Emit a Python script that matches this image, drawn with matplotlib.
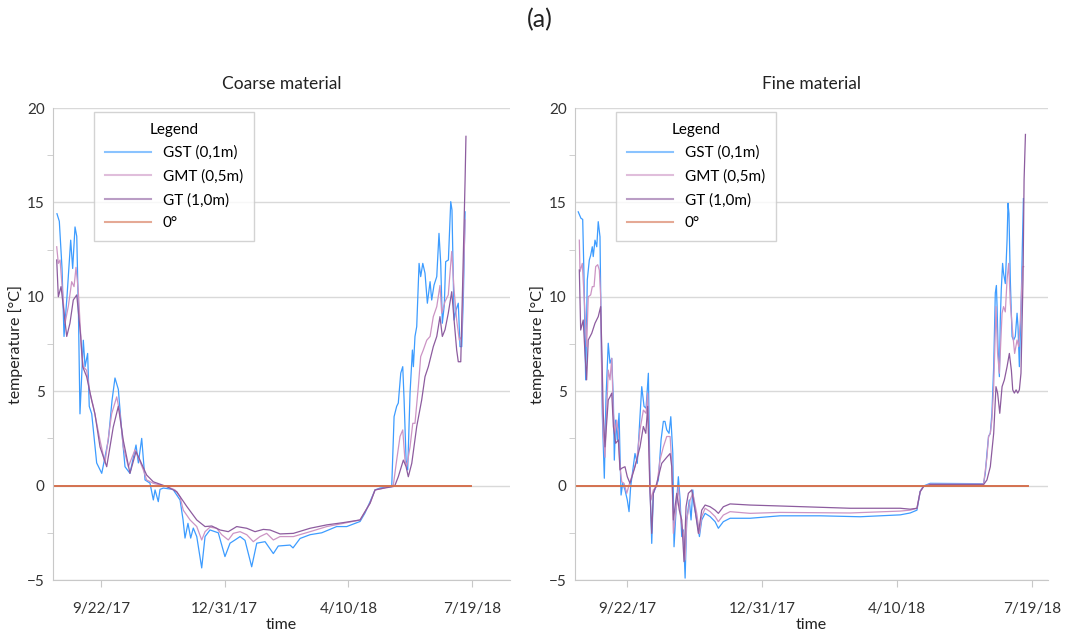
import datetime as dt
import matplotlib
matplotlib.use("Agg")
import matplotlib.pyplot as plt
import matplotlib.dates as mdates
from matplotlib.ticker import MultipleLocator

plt.rcParams['font.family'] = ['Lato', 'DejaVu Sans']

# start of the record, day offsets below count from here
start = dt.date(2017, 8, 15)

# --- Coarse material ---
coarse_gst_days = [2.4, 4.3, 6.5, 8.1, 10.5, 13.5, 15.1, 17.0, 18.4, 19.8, 21.0, 23.7, 25.1, 27.2, 28.5, 30.5,
                   34.5, 38.6, 43.9, 46.9, 49.3, 52.0, 54.7, 57.4, 61.4, 66.3, 68.2, 70.9, 73.6, 77.6, 80.3,
                   81.7, 84.3, 85.7, 88.4, 96.2, 101.9, 104.3, 105.9, 108.3, 110.5, 112.6, 115.4, 119.4,
                   122.1, 126.1, 132.8, 138.2, 142.3, 146.3, 150.4, 154.4, 159.8, 163.9, 170.6, 177.3, 181.3,
                   190.8, 193.2, 198.9, 207.0, 216.4, 228.5, 236.6, 247.4, 251.4, 255.5, 259.5, 263.5, 273.0,
                   274.9, 277.0, 278.3, 280.3, 281.9, 283.0, 284.6, 285.9, 287.8, 289.7, 290.5, 291.8, 293.2,
                   295.1, 296.4, 298.1, 299.9, 301.8, 304.0, 305.3, 307.2, 309.4, 311.2, 312.6, 313.9, 315.5,
                   316.6, 318.8, 320.7, 321.7, 323.4, 325.0, 326.8, 328.2, 329.6, 330.9, 332.3]
coarse_gst = [14.4, 14.0, 11.5, 7.9, 10.0, 13.0, 11.5, 13.7, 13.2, 9.0, 3.8, 7.7, 6.3, 7.0, 4.2, 3.8,
              1.2, 0.65, 2.4, 4.5, 5.7, 5.1, 2.95, 1.0, 0.65, 2.15, 1.2, 2.5, 0.3, 0.13, -0.76,
              -0.23, -0.85, -0.2, -0.13, -0.2, -0.76, -1.8, -2.78, -2.0, -2.78, -2.25, -2.7, -4.36,
              -2.7, -2.35, -2.5, -3.76, -3.05, -2.88, -2.7, -2.9, -4.3, -3.05, -2.97, -3.6, -3.2,
              -3.15, -3.3, -2.8, -2.6, -2.5, -2.17, -2.17, -1.9, -1.45, -0.85, -0.23, -0.13, -0.05,
              3.65, 4.2, 4.37, 5.96, 6.3, 4.53, 1.35, 0.83, 4.9, 7.18, 6.3, 7.9, 8.42,
              11.77, 11.07, 11.77, 11.25, 9.66, 10.8, 9.83, 10.62, 11.07, 13.36, 11.77, 8.6, 9.57,
              11.86, 11.95, 15.04, 14.6, 8.77, 9.3, 9.66, 7.36, 7.36, 10.0, 14.5]

coarse_gmt_days = [2.2, 3.5, 4.9, 8.9, 11.6, 14.3, 16.2, 17.8, 19.6, 22.4, 23.7, 26.4, 29.1, 31.8, 37.2,
                   41.2, 46.6, 50.7, 53.4, 56.0, 60.1, 65.5, 68.1, 72.2, 74.9, 80.3, 91.1, 97.8, 101.9,
                   104.5, 110.0, 115.4, 119.4, 122.1, 126.1, 131.5, 135.6, 140.9, 144.9, 150.4, 155.8,
                   161.1, 166.5, 171.9, 177.3, 182.7, 193.5, 207.0, 220.5, 233.9, 247.4, 255.5, 259.5,
                   266.2, 274.3, 277.0, 279.7, 281.9, 283.7, 285.1, 287.8, 290.0, 291.8, 294.5, 296.4,
                   298.5, 301.3, 304.0, 306.6, 309.4, 312.0, 313.4, 316.1, 318.7, 321.5, 323.4, 325.5,
                   327.6, 329.6, 330.9, 332.3]
coarse_gmt = [12.65, 11.77, 11.95, 8.6, 9.5, 10.8, 10.54, 11.56, 10.36, 7.0, 6.3, 6.1, 4.9, 4.2, 2.4,
              1.2, 3.8, 4.7, 3.8, 2.05, 1.0, 1.9, 1.5, 0.83, 0.3, 0.12, -0.05, -0.23, -0.6,
              -1.3, -1.82, -2.17, -2.88, -2.44, -2.2, -2.26, -2.6, -2.88, -2.53, -2.44, -2.6,
              -2.97, -2.7, -2.53, -2.88, -2.7, -2.7, -2.44, -2.17, -2.0, -1.82, -0.93, -0.23,
              -0.14, 0.03, 1.35, 2.6, 2.95, 1.35, 1.0, 2.05, 3.3, 3.3, 5.24, 6.83,
              7.18, 7.7, 7.9, 8.95, 9.48, 10.6, 9.13, 9.75, 10.1, 12.4, 10.36, 8.77,
              7.71, 7.9, 10.9, 14.07]

coarse_gt_days = [2.2, 3.5, 5.7, 10.3, 12.9, 15.6, 18.4, 21.6, 23.2, 26.4, 30.5, 33.1, 37.2, 42.6, 47.9,
                  52.0, 56.0, 61.4, 66.3, 69.5, 74.9, 80.3, 91.1, 99.2, 107.3, 115.4, 122.1, 127.5,
                  134.2, 140.9, 147.7, 155.8, 162.5, 169.2, 174.6, 182.7, 193.5, 207.0, 220.5, 233.9,
                  247.4, 255.5, 259.5, 266.2, 274.3, 275.7, 278.3, 282.4, 284.6, 286.4, 289.2, 293.2,
                  297.2, 299.9, 302.6, 306.6, 309.4, 312.0, 313.9, 316.1, 318.7, 321.5, 323.4, 325.5,
                  326.8, 328.8, 330.4, 332.3, 333.0]
coarse_gt = [11.95, 10.0, 10.54, 7.9, 8.6, 9.83, 10.1, 7.9, 6.3, 5.77, 4.5, 3.8, 2.05, 1.0, 3.1,
             4.2, 2.4, 0.65, 1.8, 1.35, 0.56, 0.2, -0.05, -0.32, -1.1, -1.82, -2.17, -2.14,
             -2.35, -2.44, -2.17, -2.26, -2.44, -2.32, -2.35, -2.56, -2.53, -2.26, -2.08, -1.96,
             -1.82, -0.93, -0.23, -0.14, -0.05, 0.03, 0.47, 1.35, 1.0, 0.47, 1.18, 3.13,
             4.53, 5.77, 6.3, 7.36, 7.9, 8.95, 7.9, 8.26, 9.13, 10.27, 8.77, 7.18,
             6.56, 6.56, 10.9, 16.2, 18.5]

# --- Fine material ---
fine_gst_days = [1.9, 3.9, 5.2, 6.1, 7.4, 8.6, 10.1, 11.1, 12.3, 13.0, 14.3, 15.6, 16.7, 18.0, 18.7, 19.7,
                 21.2, 22.4, 24.1, 25.4, 26.7, 27.9, 28.6, 29.6, 30.8, 32.1, 32.8, 33.6, 34.8, 36.5, 38.2,
                 39.5, 40.7, 43.9, 45.6, 47.6, 48.9, 50.6, 52.1, 53.8, 55.0, 56.3, 57.5, 59.5, 61.2, 63.2,
                 64.9, 66.1, 67.4, 69.1, 70.4, 71.9, 72.8, 74.3, 76.0, 77.3, 78.5, 79.7, 81.0, 82.2, 84.1,
                 85.4, 86.7, 87.8, 89.6, 91.6, 93.3, 95.8, 99.5, 103.2, 105.6, 109.3, 114.3, 129.1, 151.3,
                 181.0, 210.6, 240.2, 247.6, 252.6, 255.0, 257.5, 262.4, 301.9, 303.2, 304.4, 305.6, 306.9,
                 308.1, 309.4, 310.6, 311.4, 311.9, 312.6, 313.6, 314.3, 315.0, 316.0, 316.7, 318.0, 319.3,
                 320.0, 320.7, 321.7, 323.0, 324.1, 325.4, 326.7, 327.4, 328.4, 329.6, 330.6, 331.4]
fine_gst = [14.5, 14.16, 14.1, 11.25, 5.6, 10.9, 11.95, 12.2, 12.65, 12.13, 13.0, 12.65, 13.98, 13.18, 9.13, 3.8,
            0.39, 4.53, 7.54, 6.48, 6.74, 4.53, 1.35, 3.47, 2.42, 3.83, 1.7, -0.5, 0.12, -0.23, -0.76,
            -1.38, -0.05, 1.7, 1.18, 3.65, 5.24, 4.2, 4.1, 5.95, 0.12, -3.06, -0.41, -0.05, 0.3, 2.42,
            3.4, 3.4, 2.95, 2.77, 3.65, 1.7, -3.24, -1.3, 0.47, -0.76, -2.7, -2.35, -4.9, -1.82, -0.76,
            -1.82, -0.23, -1.1, -1.82, -2.7, -1.82, -1.47, -1.64, -1.91, -2.26, -1.91, -1.73, -1.73, -1.6,
            -1.6, -1.65, -1.55, -1.45, -1.3, -0.3, -0.02, 0.12, 0.1, 0.65, 1.7, 2.6, 2.77,
            3.83, 6.3, 10.2, 10.6, 9.48, 7.36, 5.77, 8.77, 10.36, 11.77, 11.25, 10.7, 13.0,
            14.95, 14.4, 10.9, 7.9, 7.7, 7.9, 9.13, 8.42, 6.3, 9.13, 12.65, 15.2]

fine_gmt_days = [2.7, 3.2, 4.9, 6.9, 8.1, 9.3, 11.1, 12.3, 13.6, 14.8, 16.3, 17.5, 18.5, 19.3, 20.4, 21.7,
                 24.1, 25.4, 26.7, 27.9, 29.1, 30.4, 31.6, 32.8, 34.1, 35.8, 37.8, 39.5, 41.5, 45.2, 47.6,
                 50.1, 52.1, 53.3, 55.0, 55.8, 57.5, 60.0, 62.4, 64.9, 67.4, 69.9, 71.1, 72.3, 74.3, 76.0,
                 77.8, 79.7, 81.0, 82.2, 84.7, 86.7, 89.6, 91.6, 93.3, 95.8, 99.5, 103.2, 105.6, 109.3,
                 114.3, 129.1, 151.3, 203.2, 240.2, 247.6, 252.6, 255.0, 257.5, 262.4, 301.9, 304.4, 305.6,
                 306.9, 308.1, 309.4, 311.1, 312.3, 313.6, 315.6, 316.7, 318.0, 319.3, 320.5, 321.7, 323.7,
                 324.9, 326.7, 327.9, 329.1, 330.8, 331.6]
fine_gmt = [13.0, 11.33, 11.77, 9.13, 7.36, 10.0, 10.1, 10.54, 10.54, 11.6, 11.7, 11.42, 10.0, 5.6, 2.77, 1.5,
            6.12, 5.6, 6.74, 3.83, 2.77, 3.47, 2.77, 1.0, 0.2, 0.12, -0.41, 0.03, 0.47, 1.35, 2.95,
            4.0, 3.83, 4.9, -0.05, -0.76, -0.23, -0.05, 1.35, 2.05, 2.6, 2.6, 1.18, -2.53, -1.3, -0.05,
            -1.82, -2.53, -3.94, -1.82, -0.76, -0.41, -1.47, -2.53, -1.64, -1.2, -1.38, -1.64, -1.91, -1.56,
            -1.38, -1.47, -1.42, -1.45, -1.35, -1.3, -1.2, -0.32, -0.05, 0.08, 0.08, 1.5, 2.6,
            2.77, 3.5, 5.24, 9.48, 7.0, 5.95, 9.13, 9.48, 9.2, 10.9, 11.77, 9.66, 7.9,
            7.0, 7.71, 7.36, 8.77, 11.6, 11.6]

fine_gt_days = [2.7, 3.7, 5.6, 6.9, 8.1, 9.3, 11.9, 14.3, 16.7, 18.5, 19.3, 20.4, 21.7, 24.1, 25.4, 26.7,
                27.9, 29.6, 31.6, 32.8, 34.1, 36.5, 38.2, 40.2, 43.9, 47.6, 50.1, 51.9, 53.3, 55.0, 56.3,
                57.5, 60.0, 63.7, 67.4, 69.9, 71.1, 72.3, 74.8, 76.7, 78.5, 80.2, 81.7, 83.4, 85.9, 88.4,
                90.8, 93.3, 95.8, 99.5, 103.2, 105.6, 109.3, 114.3, 129.1, 151.3, 203.2, 240.2, 247.6,
                252.6, 255.0, 257.5, 262.4, 301.9, 304.4, 306.9, 309.4, 311.1, 312.3, 313.9, 315.6, 317.3,
                319.3, 321.0, 322.5, 323.5, 324.7, 326.0, 327.2, 328.4, 329.6, 331.1, 331.9, 332.9]
fine_gt = [11.42, 8.24, 8.77, 7.0, 5.6, 7.71, 8.07, 8.6, 8.95, 9.48, 7.36, 3.83, 2.05, 4.53, 4.7, 4.9,
           3.13, 2.24, 2.42, 0.83, 0.92, 1.0, 0.47, 0.12, 1.0, 2.05, 3.13, 2.77, 4.2, -0.41, -2.53,
           -0.41, 0.12, 1.18, 1.5, 1.7, 1.0, -1.82, -0.41, -1.3, -1.82, -4.03, -1.12, -0.41, -0.23, -1.3,
           -2.53, -1.3, -1.03, -1.12, -1.3, -1.47, -1.12, -0.97, -1.03, -1.08, -1.2, -1.2, -1.25,
           -1.2, -0.32, -0.05, 0.05, 0.05, 0.3, 1.0, 2.77, 5.24, 4.9, 3.83, 5.24, 5.6,
           6.3, 7.0, 6.1, 5.07, 4.9, 5.07, 4.9, 5.07, 5.95, 10.9, 16.2, 18.6]

# 0 degree reference line (start/end day, value)
coarse_zero_days = [0, 337]
fine_zero_days = [0, 335]
zero_vals = [0, 0]

tick_dates = [dt.date(2017, 9, 22), dt.date(2017, 12, 31), dt.date(2018, 4, 10), dt.date(2018, 7, 19)]
tick_labels = ["9/22/17", "12/31/17", "4/10/18", "7/19/18"]

series_names = ["GST (0,1m)", "GMT (0,5m)", "GT (1,0m)", "0°"]
colors = ["#3d9cff", "#cc94c4", "#8d5c9f", "#d4714f"]

panels = [
    ("Coarse material", [(coarse_gst_days, coarse_gst), (coarse_gmt_days, coarse_gmt), (coarse_gt_days, coarse_gt),
                         (coarse_zero_days, zero_vals)], [53, 510]),
    ("Fine material", [(fine_gst_days, fine_gst), (fine_gmt_days, fine_gmt), (fine_gt_days, fine_gt),
                       (fine_zero_days, zero_vals)], [575, 1048]),
]

t0 = mdates.date2num(start)
W, H = 1080, 637
fig = plt.figure(figsize=(W / 100, H / 100), dpi=100)
fig.text(0.5, 1 - 20 / H, "(a)", ha="center", va="center", fontsize=18, color="#222222")

for title, series, (px0, px1) in panels:
    ax = fig.add_axes([px0 / W, 57 / H, (px1 - px0) / W, 472 / H])
    for (d, v), name, c in zip(series, series_names, colors):
        lw = 1.4 if name == "0°" else 0.9
        ax.plot([t0 + x for x in d], v, color=c, lw=lw, label=name)

    # x range from the plot area in the picture (about 1.24 / 1.35 px per day)
    if title.startswith("Coarse"):
        ax.set_xlim(t0 - 0.8, t0 + 368.6)
    else:
        ax.set_xlim(t0 - 0.5, t0 + 349.6)
    ax.set_ylim(-5, 20)
    ax.set_xticks([mdates.date2num(t) for t in tick_dates])
    ax.set_xticklabels(tick_labels)
    ax.yaxis.set_major_locator(MultipleLocator(5))
    ax.yaxis.set_minor_locator(MultipleLocator(2.5))

    ax.grid(axis="y", color="#d9d9d9", lw=1)
    ax.set_axisbelow(True)
    for s in ["top", "right"]:
        ax.spines[s].set_visible(False)
    for s in ["left", "bottom"]:
        ax.spines[s].set_color("#c8c8c8")
    ax.tick_params(axis="x", length=5, color="#c8c8c8", labelsize=11, labelcolor="#333333", pad=11)
    ax.tick_params(axis="y", which="major", length=0, labelsize=11, labelcolor="#333333", pad=6)
    ax.tick_params(axis="y", which="minor", length=4, color="#c8c8c8")

    ax.set_title(title, fontsize=12.5, color="#222222", pad=14)
    ax.set_xlabel("time", fontsize=11.5, color="#222222", labelpad=1)
    ax.set_ylabel("temperature [°C]", fontsize=11.5, color="#222222", labelpad=3)

    anchor_x = (94 - px0) / (px1 - px0) if px0 < 100 else (616 - px0) / (px1 - px0)
    leg = ax.legend(title="Legend", loc="upper left", bbox_to_anchor=(anchor_x, 0.9915), borderaxespad=0,
                    fontsize=11, title_fontsize=11, frameon=True, fancybox=False, edgecolor="#c8c8c8",
                    handlelength=3.0, handletextpad=0.8, borderpad=0.7, labelspacing=0.6)
    leg.get_frame().set_linewidth(1)
    for ln in leg.get_lines():
        ln.set_alpha(0.6)
        ln.set_linewidth(1.5)

fig.savefig("out.png", dpi=100)
